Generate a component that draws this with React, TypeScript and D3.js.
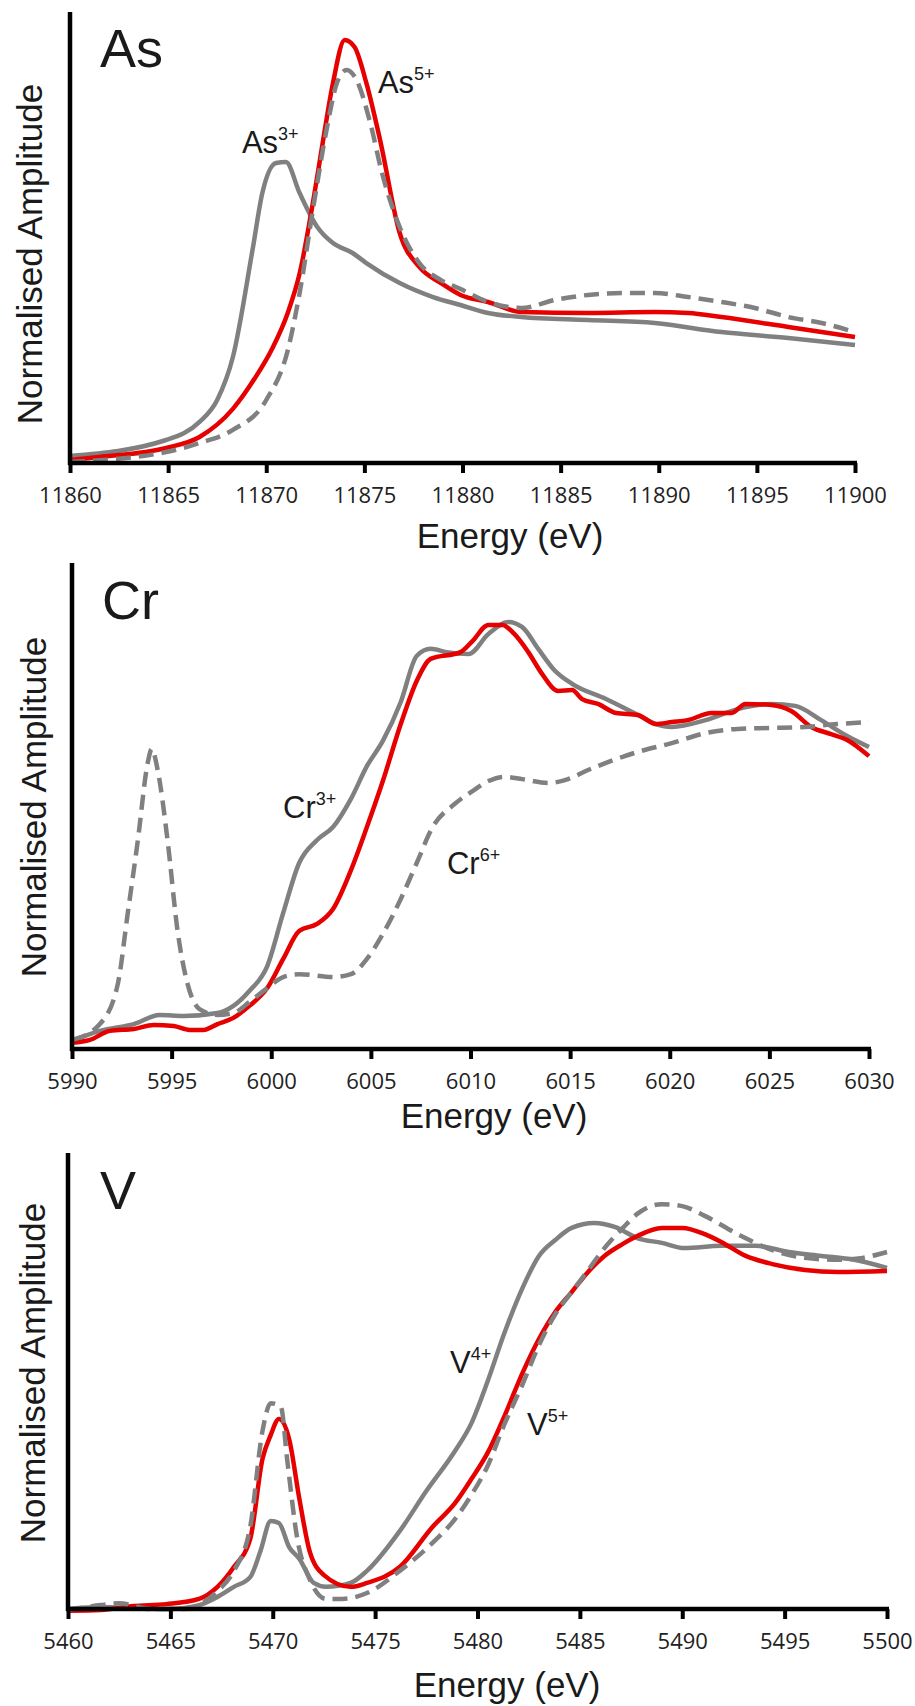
import { useEffect, useRef } from 'react';
import * as d3 from 'd3';

type Pt = [number, number];

// ---- As K-edge ----
const asTicks = [11860, 11865, 11870, 11875, 11880, 11885, 11890, 11895, 11900];
const asRef3: Pt[] = [
  [11860, 0.047], [11864.9, 0.153], [11866.6, 0.273], [11867.5, 0.419], [11868.3, 0.705],
  [11869.3, 1.417], [11869.8, 1.796], [11870.5, 1.996], [11871.0, 2.002], [11871.7, 1.796],
  [11872.6, 1.570], [11873.4, 1.463], [11874.4, 1.397], [11875.1, 1.330], [11876.8, 1.197],
  [11878.5, 1.104], [11879.9, 1.051], [11881.3, 0.998], [11883.0, 0.971], [11886.4, 0.951],
  [11889.8, 0.931], [11893.2, 0.871], [11896.6, 0.832], [11900, 0.785],
];
const asSample: Pt[] = [
  [11860, 0.02], [11861.5, 0.04], [11864.9, 0.1], [11866.6, 0.173], [11868.3, 0.36],
  [11869.4, 0.56], [11870.3, 0.76], [11871.1, 1.0], [11871.7, 1.26], [11872.4, 1.749],
  [11872.9, 2.149], [11873.4, 2.528], [11874.0, 2.814], [11874.5, 2.767], [11875.1, 2.528],
  [11875.8, 2.149], [11876.8, 1.53], [11877.8, 1.304], [11878.9, 1.197], [11879.9, 1.118],
  [11881.3, 1.071], [11883.0, 1.004], [11886.4, 0.998], [11889.8, 1.004], [11891.5, 0.998],
  [11893.2, 0.971], [11896.6, 0.905], [11900, 0.838],
];
const asRef5: Pt[] = [
  [11860, 0.007], [11864.9, 0.073], [11866.6, 0.133], [11868.3, 0.22], [11870.0, 0.419],
  [11871.1, 0.752], [11871.7, 1.131], [11872.4, 1.703], [11873.1, 2.235], [11873.6, 2.528],
  [11874.1, 2.614], [11874.6, 2.548], [11875.3, 2.262], [11875.9, 1.929], [11876.8, 1.57],
  [11877.8, 1.33], [11878.9, 1.217], [11879.9, 1.157], [11881.3, 1.071], [11883.0, 1.031],
  [11884.7, 1.084], [11886.4, 1.118], [11888.1, 1.131], [11889.8, 1.131], [11891.5, 1.104],
  [11893.2, 1.071], [11894.9, 1.031], [11896.6, 0.971], [11898.3, 0.931], [11900, 0.871],
];

// ---- Cr K-edge ----
const crTicks = [5990, 5995, 6000, 6005, 6010, 6015, 6020, 6025, 6030];
const crRef3: Pt[] = [
  [5990, 0.025], [5991.4, 0.056], [5993.1, 0.077], [5994.4, 0.105], [5995.6, 0.102],
  [5997.3, 0.111], [5998.1, 0.133], [5998.9, 0.179], [5999.8, 0.256], [6000.6, 0.42],
  [6001.4, 0.574], [6002.3, 0.645], [6003.1, 0.685], [6004.0, 0.772], [6004.8, 0.873],
  [6005.6, 0.951], [6006.5, 1.071], [6007.3, 1.213], [6008.0, 1.235], [6008.8, 1.225],
  [6009.9, 1.219], [6010.9, 1.281], [6011.9, 1.318], [6012.6, 1.302], [6013.4, 1.235],
  [6014.2, 1.17], [6015.1, 1.127], [6016.8, 1.08], [6018.4, 1.031], [6019.3, 1.003],
  [6020.1, 0.994], [6021.8, 1.015], [6023.4, 1.049], [6025.1, 1.065], [6026.3, 1.059],
  [6027.6, 1.015], [6028.9, 0.966], [6030, 0.932],
];
const crSample: Pt[] = [
  [5990, 0.019], [5990.9, 0.028], [5991.9, 0.056], [5993.1, 0.062], [5994.1, 0.074],
  [5995.1, 0.071], [5995.9, 0.059], [5996.6, 0.059], [5997.3, 0.077], [5998.1, 0.096],
  [5998.9, 0.133], [5999.8, 0.188], [6000.6, 0.278], [6001.4, 0.364], [6002.3, 0.386],
  [6003.1, 0.432], [6004.0, 0.552], [6004.8, 0.685], [6005.6, 0.827], [6006.5, 1.003],
  [6007.3, 1.136], [6008.0, 1.204], [6009.5, 1.225], [6010.1, 1.259], [6010.9, 1.309],
  [6011.6, 1.309], [6012.2, 1.281], [6012.9, 1.225], [6013.6, 1.157], [6014.4, 1.105],
  [6015.1, 1.108], [6015.6, 1.08], [6016.4, 1.065], [6017.3, 1.037], [6018.4, 1.031],
  [6019.3, 1.003], [6020.1, 1.009], [6020.9, 1.015], [6022.1, 1.037], [6023.1, 1.037],
  [6023.8, 1.065], [6025.1, 1.062], [6026.1, 1.043], [6027.1, 0.994], [6028.1, 0.972],
  [6028.9, 0.954], [6030, 0.904],
];
const crRef6: Pt[] = [
  [5990, 0.028], [5991.4, 0.077], [5992.3, 0.201], [5992.8, 0.42], [5993.3, 0.642],
  [5993.8, 0.883], [5994.0, 0.926], [5994.3, 0.861], [5994.8, 0.642], [5995.3, 0.364],
  [5995.8, 0.201], [5996.4, 0.123], [5997.3, 0.105], [5998.1, 0.111], [5998.9, 0.145],
  [5999.8, 0.188], [6000.6, 0.222], [6001.4, 0.231], [6003.1, 0.222], [6004.0, 0.231],
  [6004.8, 0.278], [6005.6, 0.355], [6006.5, 0.463], [6007.3, 0.574], [6008.1, 0.685],
  [6009.2, 0.756], [6010.1, 0.796], [6010.9, 0.827], [6011.7, 0.84], [6012.6, 0.833],
  [6013.9, 0.821], [6014.9, 0.833], [6015.9, 0.861], [6016.8, 0.883], [6018.4, 0.917],
  [6020.1, 0.944], [6021.8, 0.975], [6023.4, 0.988], [6025.1, 0.991], [6026.8, 0.994],
  [6028.4, 1.003], [6030, 1.009],
];

// ---- V K-edge ----
const vTicks = [5460, 5465, 5470, 5475, 5480, 5485, 5490, 5495, 5500];
const vRef4: Pt[] = [
  [5460, 0.0], [5461.6, 0.006], [5463.2, 0.003], [5464.8, 0.0], [5466.4, 0.012],
  [5467.3, 0.037], [5468.1, 0.068], [5468.9, 0.098], [5469.4, 0.178], [5469.9, 0.27],
  [5470.3, 0.264], [5470.8, 0.19], [5471.3, 0.154], [5472.0, 0.08], [5472.6, 0.068],
  [5473.8, 0.08], [5474.6, 0.117], [5476.2, 0.239], [5477.5, 0.362], [5478.9, 0.485],
  [5479.7, 0.57], [5480.5, 0.7], [5481.3, 0.845], [5482.2, 0.986], [5483.0, 1.084],
  [5483.8, 1.133], [5484.6, 1.17], [5485.7, 1.185], [5486.7, 1.173], [5487.8, 1.139],
  [5489.0, 1.124], [5490.1, 1.108], [5491.9, 1.115], [5493.6, 1.115], [5495.2, 1.096],
  [5496.8, 1.084], [5498.4, 1.072], [5500, 1.047],
];
const vSample: Pt[] = [
  [5460, -0.005], [5461.6, -0.003], [5463.2, 0.009], [5464.8, 0.015], [5466.4, 0.031],
  [5467.3, 0.068], [5468.1, 0.129], [5468.9, 0.215], [5469.5, 0.461], [5469.9, 0.534],
  [5470.3, 0.583], [5470.8, 0.522], [5471.3, 0.338], [5471.8, 0.178], [5472.5, 0.104],
  [5473.8, 0.068], [5474.6, 0.08], [5476.2, 0.129], [5477.8, 0.252], [5478.9, 0.325],
  [5479.7, 0.399], [5480.5, 0.48], [5481.3, 0.59], [5482.2, 0.725], [5483.0, 0.829],
  [5483.8, 0.912], [5484.6, 0.973], [5485.4, 1.035], [5486.2, 1.084], [5487.1, 1.121],
  [5487.8, 1.145], [5489.0, 1.17], [5490.0, 1.17], [5491.1, 1.151], [5491.9, 1.127],
  [5493.1, 1.084], [5494.4, 1.059], [5496.0, 1.041], [5497.6, 1.035], [5500, 1.038],
];
const vRef5: Pt[] = [
  [5460, -0.003], [5461.6, 0.012], [5462.5, 0.018], [5464.0, 0.0], [5465.6, 0.0],
  [5467.3, 0.055], [5468.1, 0.117], [5468.9, 0.252], [5469.5, 0.547], [5469.9, 0.632],
  [5470.4, 0.62], [5470.7, 0.461], [5471.2, 0.215], [5471.8, 0.092], [5472.6, 0.031],
  [5473.4, 0.031], [5474.6, 0.049], [5476.2, 0.117], [5477.8, 0.203], [5478.9, 0.276],
  [5479.7, 0.35], [5480.5, 0.44], [5481.3, 0.565], [5482.2, 0.69], [5483.0, 0.81],
  [5483.8, 0.905], [5484.6, 0.973], [5485.4, 1.04], [5486.2, 1.108], [5487.1, 1.17],
  [5487.8, 1.213], [5489.0, 1.243], [5490.0, 1.237], [5491.1, 1.207], [5492.7, 1.151],
  [5494.4, 1.102], [5496.0, 1.078], [5497.6, 1.072], [5498.8, 1.078], [5500, 1.096],
];

const RED = '#e60000';
const GREY = '#808080';
const LABEL_FONT = '"Liberation Sans", Arial, sans-serif';
const TICK_FONT = '"Open Sans", sans-serif';

const panels = [
  {
    title: 'As', ticks: asTicks, xRange: [70, 855], top: 12, axisY: 463, yMax: 3,
    yLabelX: 42, yLabelY: 254, eLabelX: 510, eLabelY: 548, titleX: 100, titleY: 67,
    solid: asRef3, sample: asSample, dashed: asRef5,
    notes: [
      { base: 'As', sup: '3+', at: [11868.76, 2.062] },
      { base: 'As', sup: '5+', at: [11875.69, 2.461] },
    ],
  },
  {
    title: 'Cr', ticks: crTicks, xRange: [72, 869], top: 563, axisY: 1049, yMax: 1.5,
    yLabelX: 46, yLabelY: 807, eLabelX: 494, eLabelY: 1128, titleX: 102, titleY: 619,
    solid: crRef3, sample: crSample, dashed: crRef6,
    notes: [
      { base: 'Cr', sup: '3+', at: [6000.59, 0.713] },
      { base: 'Cr', sup: '6+', at: [6008.82, 0.54] },
    ],
  },
  {
    title: 'V', ticks: vTicks, xRange: [68, 887], top: 1153, axisY: 1609, yMax: 1.4,
    yLabelX: 45, yLabelY: 1373, eLabelX: 507, eLabelY: 1697, titleX: 100, titleY: 1209,
    solid: vRef4, sample: vSample, dashed: vRef5,
    notes: [
      { base: 'V', sup: '4+', at: [5478.66, 0.725] },
      { base: 'V', sup: '5+', at: [5482.42, 0.534] },
    ],
  },
];

const App = () => {
  const svgRef = useRef<SVGSVGElement>(null);

  useEffect(() => {
    const svg = d3.select(svgRef.current);
    svg.selectAll('*').remove();

    panels.forEach((p) => {
      const t = p.ticks;
      const x = d3.scaleLinear([t[0], t[t.length - 1]], p.xRange);
      const y = d3.scaleLinear([0, p.yMax], [p.axisY, p.top]);
      const g = svg.append('g');

      const line = d3
        .line<Pt>()
        .curve(d3.curveMonotoneX)
        .x((d) => x(d[0]))
        .y((d) => y(d[1]));

      // curves: reference (solid), sample (red), second reference (dashed)
      g.append('path').attr('fill', 'none').attr('stroke', GREY).attr('stroke-width', 4.5)
        .attr('stroke-linejoin', 'round').attr('d', line(p.solid));
      g.append('path').attr('fill', 'none').attr('stroke', RED).attr('stroke-width', 4.5)
        .attr('stroke-linejoin', 'round').attr('d', line(p.sample));
      g.append('path').attr('fill', 'none').attr('stroke', GREY).attr('stroke-width', 4.5)
        .attr('stroke-dasharray', '15,8').attr('d', line(p.dashed));

      // y axis (no ticks)
      g.append('line')
        .attr('x1', p.xRange[0]).attr('x2', p.xRange[0])
        .attr('y1', p.top).attr('y2', p.axisY + 2)
        .attr('stroke', '#000').attr('stroke-width', 4.5);

      // x axis
      const xAxis = d3.axisBottom(x).tickValues(t).tickSize(10).tickSizeOuter(0)
        .tickFormat((d) => String(d));
      g.append('g')
        .attr('transform', `translate(0,${p.axisY})`)
        .call(xAxis)
        .call((a) => a.select('.domain').remove())
        .call((a) => a.selectAll('.tick line').attr('stroke', '#000').attr('stroke-width', 4))
        .call((a) => a.selectAll('.tick text')
          .attr('y', 40).attr('dy', null)
          .attr('font-family', TICK_FONT).attr('font-size', 22).attr('fill', '#222'));
      g.append('line')
        .attr('x1', p.xRange[0] - 2).attr('x2', p.xRange[1] + 2)
        .attr('y1', p.axisY).attr('y2', p.axisY)
        .attr('stroke', '#000').attr('stroke-width', 4.5);

      // labels
      g.append('text')
        .attr('x', p.titleX).attr('y', p.titleY)
        .attr('font-family', LABEL_FONT).attr('font-size', 54).attr('fill', '#1a1a1a')
        .text(p.title);

      g.append('text')
        .attr('transform', `translate(${p.yLabelX},${p.yLabelY}) rotate(-90)`)
        .attr('text-anchor', 'middle')
        .attr('font-family', LABEL_FONT).attr('font-size', 35).attr('fill', '#1a1a1a')
        .text('Normalised Amplitude');

      g.append('text')
        .attr('x', p.eLabelX).attr('y', p.eLabelY)
        .attr('text-anchor', 'middle')
        .attr('font-family', LABEL_FONT).attr('font-size', 35).attr('fill', '#1a1a1a')
        .text('Energy (eV)');

      p.notes.forEach((n) => {
        const txt = g.append('text')
          .attr('x', x(n.at[0])).attr('y', y(n.at[1]))
          .attr('font-family', LABEL_FONT).attr('font-size', 31).attr('fill', '#1a1a1a');
        txt.append('tspan').text(n.base);
        txt.append('tspan').attr('dy', -13).attr('font-size', 18).text(n.sup);
      });
    });
  }, []);

  return (
    <svg
      ref={svgRef}
      width={915}
      height={1706}
      style={{ position: 'absolute', left: 0, top: 0, background: '#fff' }}
    />
  );
};

export default App;
